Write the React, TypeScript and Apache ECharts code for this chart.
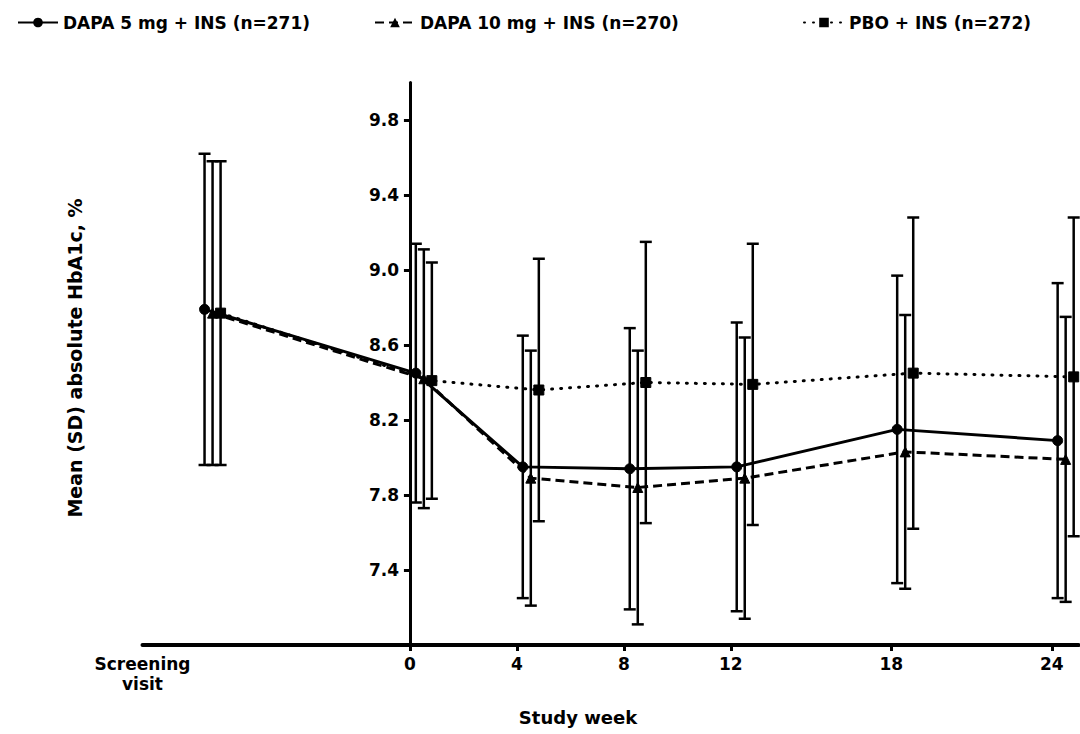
import React, { useEffect, useRef } from "react";
import * as echarts from "echarts";

const seriesNames = ["DAPA 5 mg + INS (n=271)", "DAPA 10 mg + INS (n=270)", "PBO + INS (n=272)"];
// Screening visit is plotted left of week 0
const visitWeeks = [-7.9, 0, 4, 8, 12, 18, 24];
const xTickValues = [0, 4, 8, 12, 18, 24];
const xLabelValues = [-10, 0, 4, 8, 12, 18, 24];
const yTickValues = [7.4, 7.8, 8.2, 8.6, 9.0, 9.4, 9.8];

const dapa5Mean = [8.79, 8.45, 7.95, 7.94, 7.95, 8.15, 8.09];
const dapa5SD = [0.83, 0.69, 0.70, 0.75, 0.77, 0.82, 0.84];
const dapa10Mean = [8.77, 8.42, 7.89, 7.84, 7.89, 8.03, 7.99];
const dapa10SD = [0.81, 0.69, 0.68, 0.73, 0.75, 0.73, 0.76];
const pboMean = [8.77, 8.41, 8.36, 8.40, 8.39, 8.45, 8.43];
const pboSD = [0.81, 0.63, 0.70, 0.75, 0.75, 0.83, 0.85];

const groupOffsets = [0.22, 0.52, 0.82];

const FONT = "DejaVu Sans";

function errorSeries(mean: number[], sd: number[], offset: number, name: string) {
  return {
    type: "custom",
    name: name + " SD",
    silent: true,
    z: 1,
    data: visitWeeks.map((w, i) => [w + offset, mean[i] - sd[i], mean[i] + sd[i]]),
    encode: { x: 0, y: [1, 2] },
    renderItem: (params: any, api: any) => {
      const x = api.value(0);
      const lo = api.coord([x, api.value(1)]);
      const hi = api.coord([x, api.value(2)]);
      const hw = 6;
      const style = { stroke: "#000", lineWidth: 2.5, fill: null };
      return {
        type: "group",
        children: [
          { type: "line", shape: { x1: lo[0], y1: lo[1], x2: hi[0], y2: hi[1] }, style },
          { type: "line", shape: { x1: hi[0] - hw, y1: hi[1], x2: hi[0] + hw, y2: hi[1] }, style },
          { type: "line", shape: { x1: lo[0] - hw, y1: lo[1], x2: lo[0] + hw, y2: lo[1] }, style },
        ],
      };
    },
  };
}

function lineSeries(mean: number[], offset: number, name: string, symbol: string, size: number, type: any, cap: string) {
  return {
    type: "line",
    name,
    z: 3,
    data: visitWeeks.map((w, i) => [w + offset, mean[i]]),
    symbol,
    symbolSize: size,
    showAllSymbol: true,
    itemStyle: { color: "#000", borderColor: "#000" },
    lineStyle: { color: "#000", width: 3, type, cap },
  };
}

const legendText = { fontFamily: FONT, fontWeight: "bold", fontSize: 17, color: "#000" };

export default function App() {
  const ref = useRef<HTMLDivElement>(null);
  useEffect(() => {
    if (!ref.current) return;
    const chart = echarts.init(ref.current, undefined, { renderer: "svg" });
    const option: any = {
      animation: false,
      backgroundColor: "#fff",
      legend: [
        { data: [seriesNames[0]], left: 12, top: 9, itemWidth: 40, itemHeight: 12, textStyle: legendText },
        { data: [seriesNames[1]], left: 369, top: 9, itemWidth: 40, itemHeight: 12, textStyle: legendText },
        { data: [seriesNames[2]], left: 798, top: 9, itemWidth: 40, itemHeight: 12, textStyle: legendText },
      ],
      grid: { left: 142.5, right: 1.5, top: 82.5, bottom: 89, containLabel: false },
      xAxis: {
        type: "value",
        min: -10,
        max: 25,
        splitLine: { show: false },
        axisLine: { show: true, lineStyle: { color: "#000", width: 4 } },
        axisTick: { show: true, customValues: xTickValues, length: 6, lineStyle: { color: "#000", width: 3 } },
        axisLabel: {
          customValues: xLabelValues,
          formatter: (v: number) => (v === -10 ? "Screening\nvisit" : String(v)),
          fontFamily: FONT,
          fontWeight: "bold",
          fontSize: 17,
          color: "#000",
          margin: 9,
          lineHeight: 20,
        },
      },
      yAxis: {
        type: "value",
        min: 7,
        max: 10,
        splitLine: { show: false },
        axisLine: { show: true, onZero: true, lineStyle: { color: "#000", width: 3 } },
        axisTick: { show: true, customValues: yTickValues, length: 6, lineStyle: { color: "#000", width: 3 } },
        axisLabel: {
          customValues: yTickValues,
          formatter: (v: number) => v.toFixed(1),
          fontFamily: FONT,
          fontWeight: "bold",
          fontSize: 17,
          color: "#000",
          margin: -256.5,
        },
      },
      graphic: [
        {
          type: "text",
          x: 578,
          y: 717,
          style: { text: "Study week", fontFamily: FONT, fontWeight: "bold", fontSize: 18, fill: "#000", align: "center", verticalAlign: "middle" },
        },
        {
          type: "text",
          x: 75,
          y: 358,
          rotation: Math.PI / 2,
          style: { text: "Mean (SD) absolute HbA1c, %", fontFamily: FONT, fontWeight: "bold", fontSize: 19, fill: "#000", align: "center", verticalAlign: "middle" },
        },
      ],
      series: [
        errorSeries(dapa5Mean, dapa5SD, groupOffsets[0], seriesNames[0]),
        errorSeries(dapa10Mean, dapa10SD, groupOffsets[1], seriesNames[1]),
        errorSeries(pboMean, pboSD, groupOffsets[2], seriesNames[2]),
        lineSeries(dapa5Mean, groupOffsets[0], seriesNames[0], "circle", 10, "solid", "butt"),
        lineSeries(dapa10Mean, groupOffsets[1], seriesNames[1], "triangle", 10, [9, 5], "butt"),
        lineSeries(pboMean, groupOffsets[2], seriesNames[2], "rect", 10, [1, 8], "round"),
      ],
    };
    chart.setOption(option);
    return () => chart.dispose();
  }, []);
  return <div ref={ref} style={{ position: "fixed", left: 0, top: 0, width: 1080, height: 734, background: "#fff" }} />;
}
